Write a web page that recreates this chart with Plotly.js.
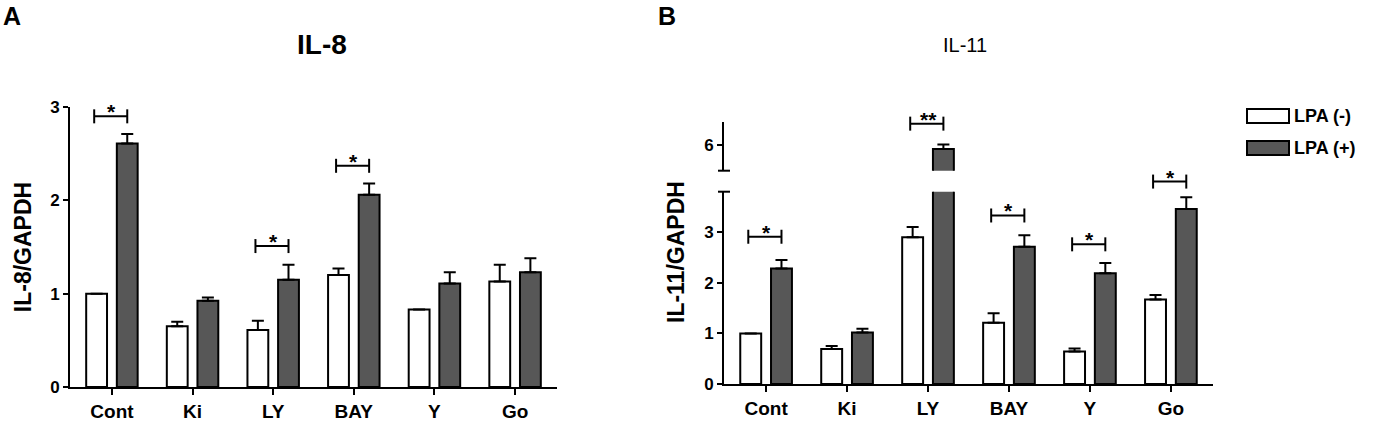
<!DOCTYPE html>
<html><head><meta charset="utf-8">
<script src="https://cdn.plot.ly/plotly-3.0.1.min.js"></script>
<style>html,body{margin:0;padding:0;background:#fff}#chart{width:1377px;height:426px}</style>
</head><body><div id="chart"></div>
<script>
// ---------- data ----------
const categories = ['Cont', 'Ki', 'LY', 'BAY', 'Y', 'Go'];
const seriesNames = ['LPA (-)', 'LPA (+)'];

const il8Minus    = [1.00, 0.65, 0.61, 1.20, 0.83, 1.13];
const il8MinusErr = [0,    0.05, 0.10, 0.07, 0,    0.18];
const il8Plus     = [2.61, 0.925, 1.15, 2.06, 1.11, 1.23];
const il8PlusErr  = [0.10, 0.035, 0.16, 0.12, 0.12, 0.15];
const il8Brackets = [2.90, null, 1.51, 2.37, null, null];
const il8Stars    = ['*', '', '*', '*', '', ''];
const il8Ticks    = [0, 1, 2, 3];

const il11Minus    = [1.00, 0.69, 2.90, 1.21, 0.64, 1.67];
const il11MinusErr = [0,    0.06, 0.20, 0.19, 0.06, 0.09];
const il11Plus     = [2.28, 1.02, 5.93, 2.71, 2.19, 3.46];
const il11PlusErr  = [0.17, 0.07, 0.09, 0.23, 0.20, 0.23];
const il11Brackets = [2.91, null, 6.43, 3.33, 2.76, 4.00];
const il11Stars    = ['*', '', '**', '*', '*', '*'];
const il11TicksLow  = [0, 1, 2, 3];
const il11TicksHigh = [6];
const il11BreakLow = 3.8, il11BreakHigh = 5.5;

// ---------- layout geometry (pixels) ----------
const W = 1377, H = 426;
const px = v => v / W;
const py = v => 1 - v / H;
const FONT = 'Liberation Sans, Arial, Helvetica, sans-serif';
const DARK = '#575757';
const BARGAP = 0.24, BARGROUPGAP = 0.32;
const halfSlot = (1 - BARGAP) / 4;

const L = {x0: 70, x1: 557, yb: 387, yt: 107};
const R = {x0: 724, x1: 1213, yb: 384, ybrk: 191.7, yupb: 170.7, yt: 121.7, ytop4: 88};
const unit11 = (R.yb - R.ybrk) / il11BreakLow;
const upperTop = il11BreakHigh + (R.yupb - R.yt) / unit11;
const y4Top = (R.yb - R.ytop4) / unit11;
const upperOffset = (R.yb - R.yupb) / unit11;
const brk = v => v > il11BreakHigh ? v - il11BreakHigh + upperOffset : v;
const zeros = categories.map(() => 0);

function barTrace(y, err, name, color, xa, ya) {
  return {
    type: 'bar', x: categories, y: y, name: name, xaxis: xa, yaxis: ya,
    marker: {color: color, line: {color: '#000', width: 2}},
    error_y: {type: 'data', symmetric: false, array: err, arrayminus: zeros,
              color: '#000', thickness: 2, width: 6},
    showlegend: false, hoverinfo: 'x+y'
  };
}

const data = [
  barTrace(il8Minus, il8MinusErr, seriesNames[0], '#ffffff', 'x', 'y'),
  barTrace(il8Plus, il8PlusErr, seriesNames[1], DARK, 'x', 'y'),
  barTrace(il11Minus, il11MinusErr, seriesNames[0], '#ffffff', 'x2', 'y2'),
  barTrace(il11Plus, il11PlusErr, seriesNames[1], DARK, 'x2', 'y2'),
  barTrace(il11Minus, il11MinusErr, seriesNames[0], '#ffffff', 'x2', 'y3'),
  barTrace(il11Plus, il11PlusErr, seriesNames[1], DARK, 'x2', 'y3'),
  {type: 'scatter', mode: 'none', x: categories, y: il11Brackets.map(b => b == null ? null : brk(b)),
   xaxis: 'x2', yaxis: 'y4', showlegend: false, hoverinfo: 'skip'}
];

const tickFont = {family: FONT, size: 17, color: '#000', weight: 'bold'};
const xTickFont = {family: FONT, size: 19, color: '#000', weight: 'bold'};
function xAxis(d, anchor) {
  return {domain: d, anchor: anchor, type: 'category', range: [-0.52, 5.52],
    showline: true, linewidth: 2, linecolor: '#000', ticks: 'outside', ticklen: 6,
    tickwidth: 2, tickcolor: '#000', tickfont: xTickFont, showgrid: false, zeroline: false,
    fixedrange: true};
}
function yAxis(d, range, tickvals) {
  return {domain: d, range: range, tickvals: tickvals,
    showline: true, linewidth: 2, linecolor: '#000', ticks: 'outside', ticklen: 5,
    tickwidth: 2, tickcolor: '#000', tickfont: tickFont, showgrid: false, zeroline: false,
    fixedrange: true};
}

const yaxis = yAxis([py(L.yb), py(L.yt)], [0, 3], il8Ticks);
yaxis.anchor = 'x';
yaxis.title = {text: 'IL-8/GAPDH', font: {family: FONT, size: 23, color: '#000', weight: 'bold'}, standoff: 12};
const yaxis2 = yAxis([py(R.yb), py(R.ybrk)], [0, il11BreakLow], il11TicksLow);
yaxis2.anchor = 'x2';
const yaxis3 = yAxis([py(R.yupb), py(R.yt)], [il11BreakHigh, upperTop], il11TicksHigh);
yaxis3.anchor = 'x2';
const yaxis4 = {domain: [py(R.yb), py(R.ytop4)], anchor: 'x2', range: [0, y4Top], visible: false, fixedrange: true};

const shapes = [];
const annotations = [];
const lineStyle = {color: '#000', width: 2};

function addBrackets(brackets, stars, xref, yref, mapY) {
  brackets.forEach((b, i) => {
    if (b == null) return;
    const y = mapY(b);
    const xa = i - halfSlot - 0.03, xb = i + halfSlot;
    shapes.push({type: 'line', xref: xref, yref: yref, x0: xa, x1: xb, y0: y, y1: y, line: lineStyle});
    [xa, xb].forEach(xx => shapes.push({type: 'line', xref: xref, yref: yref, x0: xx, x1: xx,
      ysizemode: 'pixel', yanchor: y, y0: -7, y1: 7, line: lineStyle}));
    annotations.push({xref: xref, yref: yref, x: i, y: y, text: stars[i], showarrow: false,
      yanchor: 'bottom', yshift: -9, font: {family: FONT, size: 21, color: '#000', weight: 'bold'}});
  });
}
addBrackets(il8Brackets, il8Stars, 'x', 'y', v => v);
addBrackets(il11Brackets, il11Stars, 'x2', 'y4', brk);

// axis-break end caps
shapes.push({type: 'line', xref: 'x2 domain', yref: 'y2 domain', xsizemode: 'pixel', xanchor: 0,
  x0: -6, x1: 6, y0: 1, y1: 1, line: lineStyle});
shapes.push({type: 'line', xref: 'x2 domain', yref: 'y3 domain', xsizemode: 'pixel', xanchor: 0,
  x0: -6, x1: 6, y0: 0, y1: 0, line: lineStyle});

// custom legend
const legendColors = ['#ffffff', DARK];
const legendY = [116, 148];
seriesNames.forEach((n, k) => {
  shapes.push({type: 'rect', xref: 'paper', yref: 'paper', x0: px(1247), x1: px(1289),
    y0: py(legendY[k] + 7), y1: py(legendY[k] - 7), fillcolor: legendColors[k],
    line: {color: '#000', width: 2}});
  annotations.push({xref: 'paper', yref: 'paper', x: px(1292), y: py(legendY[k]), xanchor: 'left',
    yanchor: 'middle', text: n, showarrow: false,
    font: {family: FONT, size: 18, color: '#000', weight: 'bold'}});
});

// titles & panel labels
annotations.push({xref: 'paper', yref: 'paper', x: px(1), y: py(16), xanchor: 'left', yanchor: 'middle',
  text: 'A', showarrow: false, font: {family: FONT, size: 25, color: '#000', weight: 'bold'}});
annotations.push({xref: 'paper', yref: 'paper', x: px(656), y: py(16), xanchor: 'left', yanchor: 'middle',
  text: 'B', showarrow: false, font: {family: FONT, size: 25, color: '#000', weight: 'bold'}});
annotations.push({xref: 'paper', yref: 'paper', x: px(322), y: py(45), xanchor: 'center', yanchor: 'middle',
  text: 'IL-8', showarrow: false, font: {family: FONT, size: 28, color: '#000', weight: 'bold'}});
annotations.push({xref: 'paper', yref: 'paper', x: px(965), y: py(45), xanchor: 'center', yanchor: 'middle',
  text: 'IL-11', showarrow: false, font: {family: FONT, size: 20, color: '#000'}});
annotations.push({xref: 'paper', yref: 'paper', x: px(676), y: py(252), xanchor: 'center', yanchor: 'middle',
  textangle: -90, text: 'IL-11/GAPDH', showarrow: false,
  font: {family: FONT, size: 23, color: '#000', weight: 'bold'}});

const layout = {
  width: W, height: H, margin: {l: 0, r: 0, t: 0, b: 0},
  paper_bgcolor: '#ffffff', plot_bgcolor: 'rgba(0,0,0,0)',
  barmode: 'group', bargap: BARGAP, bargroupgap: BARGROUPGAP,
  showlegend: false,
  font: {family: FONT, color: '#000'},
  xaxis: xAxis([px(L.x0), px(L.x1)], 'y'),
  yaxis: yaxis,
  xaxis2: xAxis([px(R.x0), px(R.x1)], 'y2'),
  yaxis2: yaxis2, yaxis3: yaxis3, yaxis4: yaxis4,
  shapes: shapes, annotations: annotations
};
Plotly.newPlot('chart', data, layout, {displayModeBar: false, staticPlot: true});
</script></body></html>
